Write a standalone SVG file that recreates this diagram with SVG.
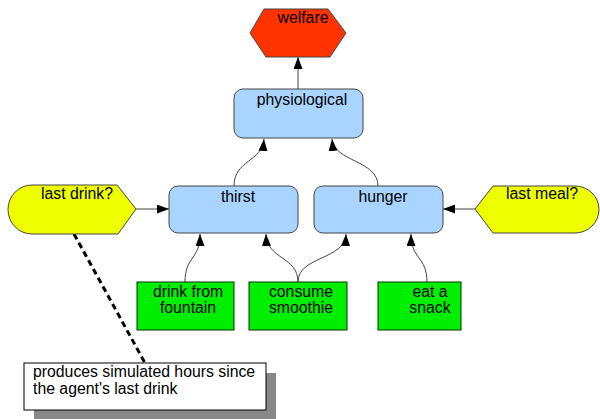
<svg xmlns="http://www.w3.org/2000/svg" width="600" height="419" viewBox="0 0 600 419">
<defs>
<marker id="ah" markerWidth="12" markerHeight="9" refX="12" refY="4.5" orient="auto" markerUnits="userSpaceOnUse"><path d="M0,0 L12,4.5 L0,9 z" fill="#000"/></marker>
</defs>
<style>
text{font-family:"Liberation Sans",Arial,sans-serif;font-size:15.8px;fill:#000}
.c{text-anchor:middle}
.blue{fill:#A8D4FF;stroke:#444;stroke-width:1}
.yel{fill:#EEFF00;stroke:#444;stroke-width:1}
.grn{fill:#00EE00;stroke:#003300;stroke-width:1}
.red{fill:#FF3300;stroke:#444;stroke-width:1}
.con{fill:none;stroke:#444;stroke-width:1;marker-end:url(#ah)}
</style>
<rect width="600" height="419" fill="#fff"/>
<g id="connectors">
<path class="con" d="M298,89 L298,57"/>
<path class="con" d="M234,186 C234,160 262,162 264,139"/>
<path class="con" d="M378,186 C378,160 334,162 332,139"/>
<path class="con" d="M136,209 L169,209"/>
<path class="con" d="M475,209 L443,209"/>
<path class="con" d="M185,282 C185,256 200,260 200,234"/>
<path class="con" d="M298,282 C298,256 267,260 266,234"/>
<path class="con" d="M298,282 C298,256 345,260 346,234"/>
<path class="con" d="M427,282 C427,256 411,260 411,234"/>
<path d="M74,234 L145,363" fill="none" stroke="#000" stroke-width="3" stroke-dasharray="6 4"/>
</g>
<g id="welfare">
<polygon class="red" points="250,33 264,9 328,9 346,33 330,57 266,57"/>
<text class="c" x="303" y="23">welfare</text>
</g>
<g id="physiological">
<rect class="blue" x="234" y="89" width="129" height="49" rx="9"/>
<text class="c" x="302" y="105">physiological</text>
</g>
<g id="thirst">
<rect class="blue" x="169" y="186" width="129" height="47" rx="9"/>
<text class="c" x="238" y="202">thirst</text>
</g>
<g id="hunger">
<rect class="blue" x="314" y="186" width="129" height="47" rx="9"/>
<text class="c" x="383" y="202">hunger</text>
</g>
<g id="last-drink">
<path class="yel" d="M32,185 H117 L136,209 L118,234 H32 A24,24.5 0 0 1 32,185 Z"/>
<text class="c" x="77" y="199">last drink?</text>
</g>
<g id="last-meal">
<path class="yel" d="M475,209 L493,186 H575 A24,23.5 0 0 1 575,233 H493 Z"/>
<text class="c" x="542" y="199">last meal?</text>
</g>
<g id="drink-from-fountain">
<rect class="grn" x="137" y="282" width="97" height="48"/>
<text class="c" x="188" y="297">drink from</text>
<text class="c" x="188" y="313">fountain</text>
</g>
<g id="consume-smoothie">
<rect class="grn" x="249" y="282" width="98" height="48"/>
<text class="c" x="301" y="297">consume</text>
<text class="c" x="301" y="313">smoothie</text>
</g>
<g id="eat-a-snack">
<rect class="grn" x="378" y="282" width="83" height="48"/>
<text class="c" x="430" y="297">eat a</text>
<text class="c" x="430" y="313">snack</text>
</g>
<g id="note">
<rect x="34" y="373" width="242" height="47" fill="#888"/>
<rect x="24" y="363" width="242" height="47" fill="#fff" stroke="#000" stroke-width="1"/>
<text x="33" y="377">produces simulated hours since</text>
<text x="33" y="394">the agent's last drink</text>
</g>
</svg>
